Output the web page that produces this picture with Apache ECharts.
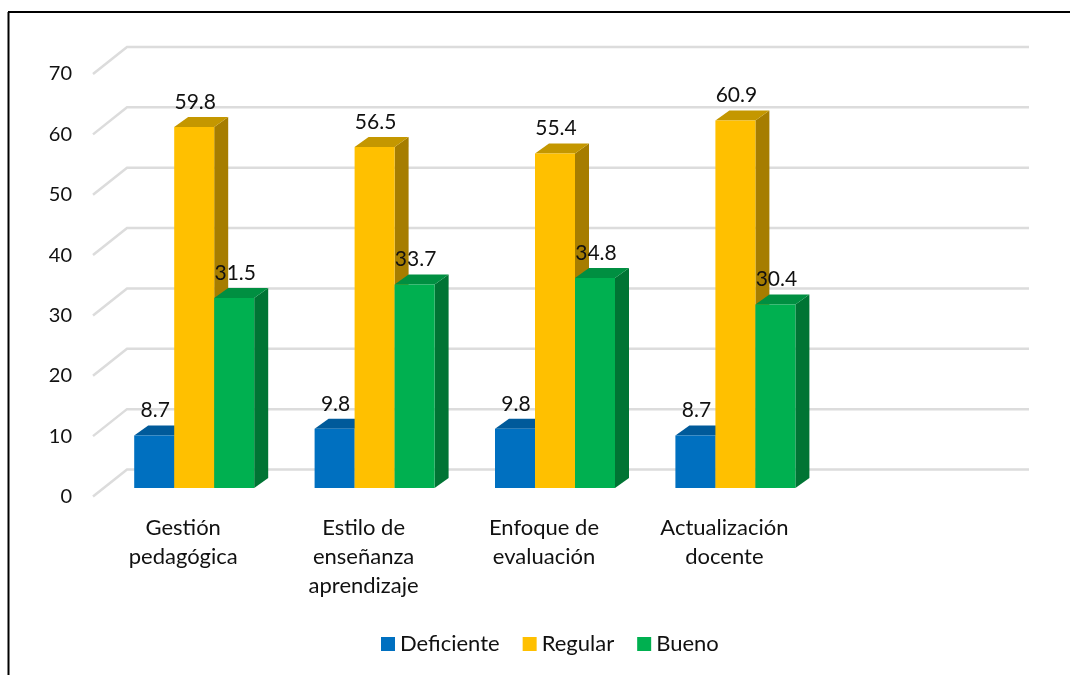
<!DOCTYPE html>
<html>
<head>
<meta charset="utf-8">
<style>
html, body { margin: 0; padding: 0; background: #fff; }
#chart { width: 1070px; height: 675px; }
</style>
<script src="https://cdn.jsdelivr.net/npm/echarts@6/dist/echarts.min.js"></script>
</head>
<body>
<div id="chart"></div>
<script>
var categories = ['Gestión\npedagógica', 'Estilo de\nenseñanza\naprendizaje', 'Enfoque de\nevaluación', 'Actualización\ndocente', ''];
var yTicks = [0, 10, 20, 30, 40, 50, 60, 70];
var deficiente = [8.7, 9.8, 9.8, 8.7];
var regular = [59.8, 56.5, 55.4, 60.9];
var bueno = [31.5, 33.7, 34.8, 30.4];

var fontName = 'Lato';
var textColor = '#111111';

// 3d look: the bars sit inside the floor, the walls at the back of it
var wallDx = 34, wallDy = -27;
var barDx = 11, barDy = -8.5;
var barW = 40, depthX = 14, depthY = -10;

function bars(name, values, slot, colors) {
    return {
        name: name,
        type: 'custom',
        z: 3,
        silent: true,
        itemStyle: {color: colors[0]},
        data: values.map(function (v, i) { return [i, v]; }),
        encode: {x: 0, y: 1},
        renderItem: function (params, api) {
            var top = api.coord([api.value(0), api.value(1)]);
            var base = api.coord([api.value(0), 0]);
            var x0 = top[0] + barDx + (slot - 1.5) * barW;
            var x1 = x0 + barW;
            var y0 = top[1] + barDy;
            var y1 = base[1] + barDy;
            return {
                type: 'group',
                children: [
                    {type: 'polygon', shape: {points: [[x1, y0], [x1 + depthX, y0 + depthY], [x1 + depthX, y1 + depthY], [x1, y1]]}, style: {fill: colors[1]}},
                    {type: 'polygon', shape: {points: [[x0, y0], [x0 + depthX, y0 + depthY], [x1 + depthX, y0 + depthY], [x1, y0]]}, style: {fill: colors[2]}},
                    {type: 'rect', shape: {x: x0, y: y0, width: barW, height: y1 - y0}, style: {fill: colors[0]}},
                    {
                        type: 'text',
                        z2: 100,
                        style: {
                            x: x0 + barW / 2 + 1,
                            y: y0 + depthY - 15,
                            text: String(api.value(1)),
                            align: 'center',
                            verticalAlign: 'middle',
                            fill: textColor,
                            font: '21px ' + fontName
                        }
                    }
                ]
            };
        }
    };
}

var chart = echarts.init(document.getElementById('chart'));
chart.setOption({
    animation: false,
    backgroundColor: '#ffffff',
    grid: {left: 93, right: 75, top: 74, bottom: 178.5},
    legend: {
        left: 381,
        top: 633,
        padding: 0,
        icon: 'rect',
        itemWidth: 14,
        itemHeight: 14,
        itemGap: 23,
        selectedMode: false,
        textStyle: {fontFamily: fontName, fontSize: 22, color: textColor},
        data: ['Deficiente', 'Regular', 'Bueno']
    },
    xAxis: {
        type: 'category',
        data: categories,
        axisLine: {show: false},
        axisTick: {show: false},
        axisLabel: {
            interval: 0,
            margin: 17,
            fontFamily: fontName,
            fontSize: 22,
            lineHeight: 29,
            color: textColor,
            verticalAlign: 'top'
        }
    },
    yAxis: {
        type: 'value',
        min: 0,
        max: 70,
        interval: 10,
        axisLine: {show: false},
        axisTick: {show: false},
        splitLine: {show: false},
        axisLabel: {margin: 21, fontFamily: fontName, fontSize: 20, color: textColor}
    },
    graphic: [
        {type: 'line', silent: true, shape: {x1: 8.5, y1: 12, x2: 8.5, y2: 675}, style: {stroke: '#000', lineWidth: 2}},
        {type: 'line', silent: true, shape: {x1: 8, y1: 12, x2: 1070, y2: 12}, style: {stroke: '#000', lineWidth: 2}}
    ],
    series: [
        {
            type: 'custom',
            z: 1,
            silent: true,
            data: yTicks.map(function (t) { return [0, t]; }),
            encode: {x: 0, y: 1},
            renderItem: function (params, api) {
                var y = api.coord([0, api.value(1)])[1];
                var x0 = params.coordSys.x;
                var x1 = x0 + params.coordSys.width;
                return {
                    type: 'polyline',
                    shape: {points: [[x0, y], [x0 + wallDx, y + wallDy], [x1 + wallDx, y + wallDy]]},
                    style: {stroke: '#dcdcdc', lineWidth: 2.5, fill: null}
                };
            }
        },
        bars('Deficiente', deficiente, 0, ['#0070c0', '#00548f', '#005a9a']),
        bars('Regular', regular, 1, ['#ffc000', '#a67d00', '#c49700']),
        bars('Bueno', bueno, 2, ['#00b050', '#007434', '#008f41'])
    ]
});
</script>
</body>
</html>
